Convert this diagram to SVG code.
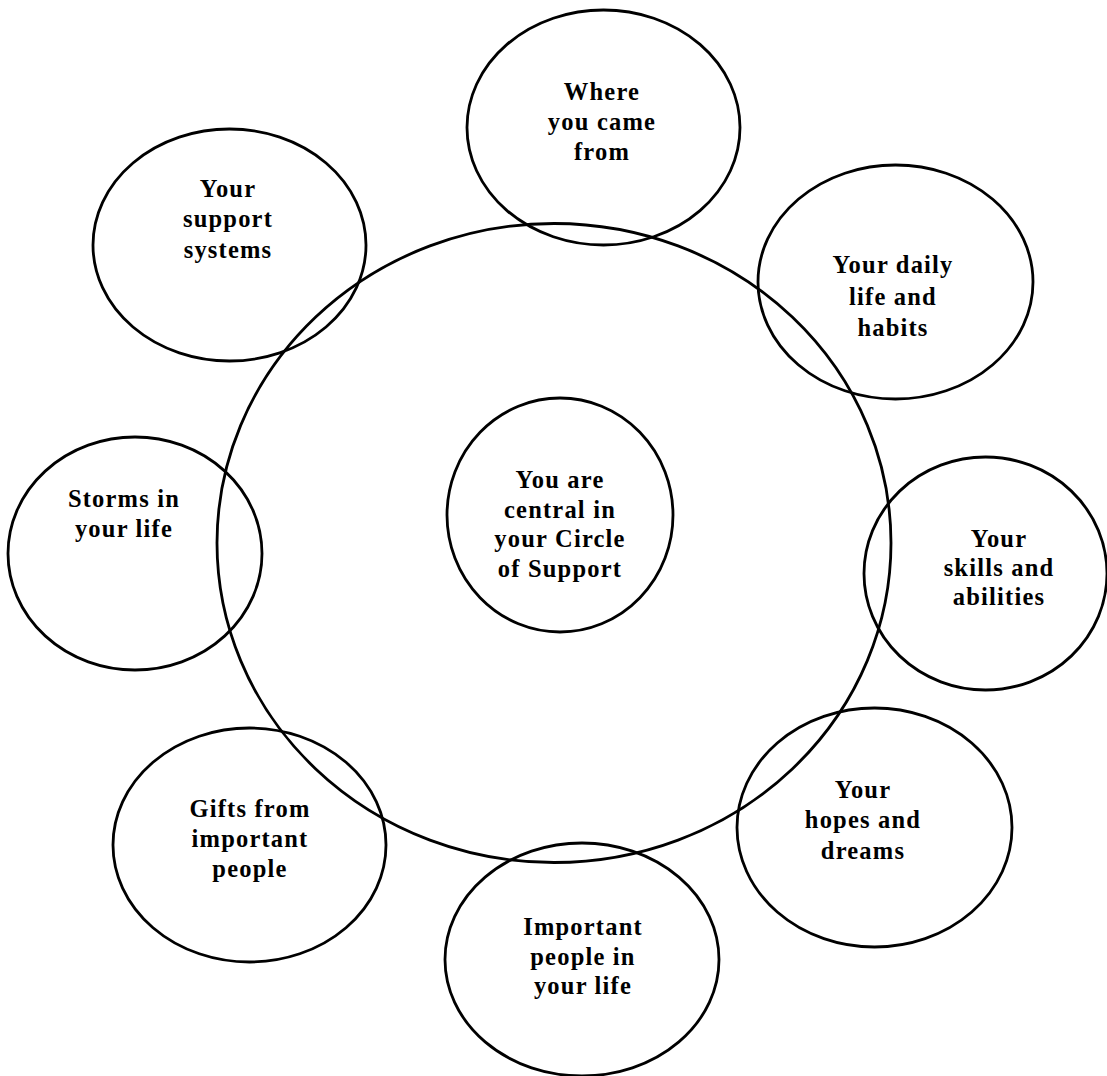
<svg xmlns="http://www.w3.org/2000/svg" width="1107" height="1076" viewBox="0 0 1107 1076">
<style>
.c{fill:none;stroke:#000;stroke-width:2.8}
.t{font-family:"Liberation Serif","Times New Roman",serif;font-weight:bold;font-size:24.5px;letter-spacing:1.2px;text-anchor:middle;fill:#000}
</style>
<rect width="1107" height="1076" fill="#fff"/>
<g id="outer-circle"><ellipse class="c" cx="554" cy="543" rx="337" ry="319.5"/></g>
<g id="center"><ellipse class="c" cx="560" cy="515" rx="113" ry="117"/>
<text class="t"><tspan x="560" y="488">You are</tspan><tspan x="560" y="518">central in</tspan><tspan x="560" y="547">your Circle</tspan><tspan x="560" y="577">of Support</tspan></text></g>
<g id="where-you-came-from"><ellipse class="c" cx="603.5" cy="127.5" rx="136.5" ry="117.5"/>
<text class="t"><tspan x="602" y="100">Where</tspan><tspan x="602" y="130">you came</tspan><tspan x="602" y="160">from</tspan></text></g>
<g id="support-systems"><ellipse class="c" cx="229.5" cy="245" rx="136.5" ry="116"/>
<text class="t"><tspan x="228" y="197">Your</tspan><tspan x="228" y="227">support</tspan><tspan x="228" y="258">systems</tspan></text></g>
<g id="daily-life"><ellipse class="c" cx="895.5" cy="282" rx="137.5" ry="117"/>
<text class="t"><tspan x="893" y="273">Your daily</tspan><tspan x="893" y="305">life and</tspan><tspan x="893" y="336">habits</tspan></text></g>
<g id="storms"><ellipse class="c" cx="135" cy="553.5" rx="127" ry="116.5"/>
<text class="t"><tspan x="124" y="507">Storms in</tspan><tspan x="124" y="537">your life</tspan></text></g>
<g id="skills"><ellipse class="c" cx="985.5" cy="573.5" rx="121.5" ry="116.5"/>
<text class="t"><tspan x="999" y="547">Your</tspan><tspan x="999" y="576">skills and</tspan><tspan x="999" y="605">abilities</tspan></text></g>
<g id="gifts"><ellipse class="c" cx="249.5" cy="845" rx="136.5" ry="117"/>
<text class="t"><tspan x="250" y="817">Gifts from</tspan><tspan x="250" y="847">important</tspan><tspan x="250" y="877">people</tspan></text></g>
<g id="hopes"><ellipse class="c" cx="874.5" cy="827.5" rx="137.5" ry="119.5"/>
<text class="t"><tspan x="863" y="798">Your</tspan><tspan x="863" y="828">hopes and</tspan><tspan x="863" y="859">dreams</tspan></text></g>
<g id="important-people"><ellipse class="c" cx="582" cy="959.5" rx="137" ry="116.5"/>
<text class="t"><tspan x="583" y="935">Important</tspan><tspan x="583" y="965">people in</tspan><tspan x="583" y="994">your life</tspan></text></g>
<g id="connectors"/>
</svg>
